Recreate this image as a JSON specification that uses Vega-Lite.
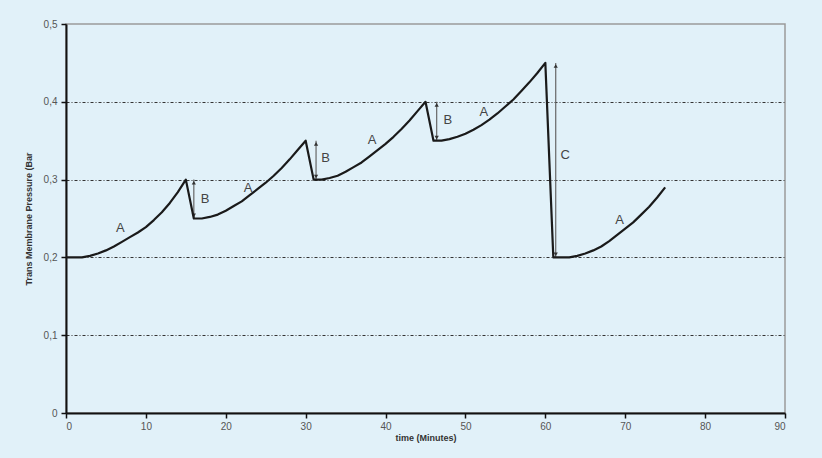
{
  "$schema": "https://vega.github.io/schema/vega-lite/v6.json",
  "width": 719,
  "height": 389,
  "autosize": {"type": "none"},
  "padding": {"left": 66, "top": 24, "right": 37, "bottom": 45},
  "background": "#e1f1f9",
  "config": {
    "view": {"stroke": "#9a9a9a", "strokeWidth": 1.5, "fill": "#e1f1f9"},
    "font": "Liberation Sans",
    "axis": {
      "labelFont": "Liberation Sans",
      "labelFontSize": 10,
      "labelColor": "#555555",
      "titleFont": "Liberation Sans",
      "titleFontSize": 9,
      "titleFontWeight": "bold",
      "titleColor": "#333333",
      "domainColor": "#111111",
      "domainWidth": 2,
      "tickColor": "#111111",
      "tickSize": 5,
      "tickWidth": 1.5
    }
  },
  "datasets": {
    "curve": [
      {"t": 0, "v": 0.2}, {"t": 2, "v": 0.2}, {"t": 3, "v": 0.202}, {"t": 4, "v": 0.205},
      {"t": 5, "v": 0.209}, {"t": 6, "v": 0.214}, {"t": 7, "v": 0.22}, {"t": 8, "v": 0.226},
      {"t": 9, "v": 0.232}, {"t": 10, "v": 0.239}, {"t": 11, "v": 0.248}, {"t": 12, "v": 0.258},
      {"t": 13, "v": 0.27}, {"t": 14, "v": 0.284}, {"t": 15, "v": 0.3},
      {"t": 16, "v": 0.25}, {"t": 17, "v": 0.25}, {"t": 18, "v": 0.252}, {"t": 19, "v": 0.255},
      {"t": 20, "v": 0.26}, {"t": 21, "v": 0.266}, {"t": 22, "v": 0.272}, {"t": 23, "v": 0.28},
      {"t": 24, "v": 0.288}, {"t": 25, "v": 0.296}, {"t": 26, "v": 0.305}, {"t": 27, "v": 0.315},
      {"t": 28, "v": 0.326}, {"t": 29, "v": 0.338}, {"t": 30, "v": 0.35},
      {"t": 31, "v": 0.3}, {"t": 32, "v": 0.3}, {"t": 33, "v": 0.302}, {"t": 34, "v": 0.305},
      {"t": 35, "v": 0.31}, {"t": 36, "v": 0.316}, {"t": 37, "v": 0.322}, {"t": 38, "v": 0.33},
      {"t": 39, "v": 0.338}, {"t": 40, "v": 0.346}, {"t": 41, "v": 0.355}, {"t": 42, "v": 0.365},
      {"t": 43, "v": 0.376}, {"t": 44, "v": 0.388}, {"t": 45, "v": 0.4},
      {"t": 46, "v": 0.35}, {"t": 47, "v": 0.35}, {"t": 48, "v": 0.352}, {"t": 49, "v": 0.355},
      {"t": 50, "v": 0.359}, {"t": 51, "v": 0.364}, {"t": 52, "v": 0.37}, {"t": 53, "v": 0.377},
      {"t": 54, "v": 0.385}, {"t": 55, "v": 0.394}, {"t": 56, "v": 0.403}, {"t": 57, "v": 0.414},
      {"t": 58, "v": 0.425}, {"t": 59, "v": 0.437}, {"t": 60, "v": 0.45},
      {"t": 61, "v": 0.2}, {"t": 62, "v": 0.2}, {"t": 63, "v": 0.2}, {"t": 64, "v": 0.202},
      {"t": 65, "v": 0.205}, {"t": 66, "v": 0.209}, {"t": 67, "v": 0.214}, {"t": 68, "v": 0.221},
      {"t": 69, "v": 0.229}, {"t": 70, "v": 0.237}, {"t": 71, "v": 0.245}, {"t": 72, "v": 0.255},
      {"t": 73, "v": 0.265}, {"t": 74, "v": 0.277}, {"t": 75, "v": 0.29}
    ],
    "arrows": [
      {"t": 16, "lo": 0.25, "hi": 0.3},
      {"t": 31.3, "lo": 0.3, "hi": 0.35},
      {"t": 46.4, "lo": 0.35, "hi": 0.4},
      {"t": 61.3, "lo": 0.2, "hi": 0.45}
    ],
    "heads": [
      {"t": 16, "v": 0.296, "dir": "up"}, {"t": 16, "v": 0.254, "dir": "down"},
      {"t": 31.3, "v": 0.346, "dir": "up"}, {"t": 31.3, "v": 0.304, "dir": "down"},
      {"t": 46.4, "v": 0.396, "dir": "up"}, {"t": 46.4, "v": 0.354, "dir": "down"},
      {"t": 61.3, "v": 0.446, "dir": "up"}, {"t": 61.3, "v": 0.204, "dir": "down"}
    ],
    "labels": [
      {"t": 6.8, "v": 0.238, "txt": "A"},
      {"t": 22.8, "v": 0.289, "txt": "A"},
      {"t": 38.3, "v": 0.351, "txt": "A"},
      {"t": 52.3, "v": 0.387, "txt": "A"},
      {"t": 69.3, "v": 0.248, "txt": "A"},
      {"t": 17.4, "v": 0.275, "txt": "B"},
      {"t": 32.5, "v": 0.328, "txt": "B"},
      {"t": 47.8, "v": 0.377, "txt": "B"},
      {"t": 62.5, "v": 0.332, "txt": "C"}
    ]
  },
  "layer": [
    {
      "data": {"name": "arrows"},
      "mark": {"type": "rule", "color": "#666666", "strokeWidth": 1.2},
      "encoding": {
        "x": {"field": "t", "type": "quantitative"},
        "y": {"field": "lo", "type": "quantitative"},
        "y2": {"field": "hi"}
      }
    },
    {
      "data": {"name": "heads"},
      "mark": {"type": "point", "filled": true, "color": "#333333", "size": 18, "opacity": 1},
      "encoding": {
        "x": {"field": "t", "type": "quantitative"},
        "y": {"field": "v", "type": "quantitative"},
        "shape": {"field": "dir", "type": "nominal", "scale": {"domain": ["up", "down"], "range": ["triangle-up", "triangle-down"]}, "legend": null}
      }
    },
    {
      "data": {"name": "curve"},
      "mark": {"type": "line", "color": "#1a1a1a", "strokeWidth": 2.2, "interpolate": "linear", "strokeJoin": "round"},
      "encoding": {
        "x": {
          "field": "t", "type": "quantitative",
          "scale": {"domain": [0, 90], "nice": false},
          "axis": {"values": [0, 10, 20, 30, 40, 50, 60, 70, 80, 90], "grid": false, "title": "time (Minutes)", "titlePadding": 2, "labelPadding": 3}
        },
        "y": {
          "field": "v", "type": "quantitative",
          "scale": {"domain": [0, 0.5], "nice": false},
          "axis": {
            "values": [0, 0.1, 0.2, 0.3, 0.4, 0.5],
            "labelExpr": "datum.value == 0 ? '0' : replace(format(datum.value, '.1f'), '.', ',')",
            "grid": true,
            "gridDash": [3, 2, 1, 2],
            "gridColor": {"condition": {"test": "datum.value >= 0.5 || datum.value <= 0", "value": "transparent"}, "value": "#333333"},
            "gridWidth": 1,
            "title": "Trans Membrane Pressure (Bar",
            "titlePadding": 10,
            "labelPadding": 4
          }
        }
      }
    },
    {
      "data": {"name": "labels"},
      "mark": {"type": "text", "fontSize": 13, "color": "#444444", "font": "Liberation Sans"},
      "encoding": {
        "x": {"field": "t", "type": "quantitative"},
        "y": {"field": "v", "type": "quantitative"},
        "text": {"field": "txt"}
      }
    }
  ]
}
